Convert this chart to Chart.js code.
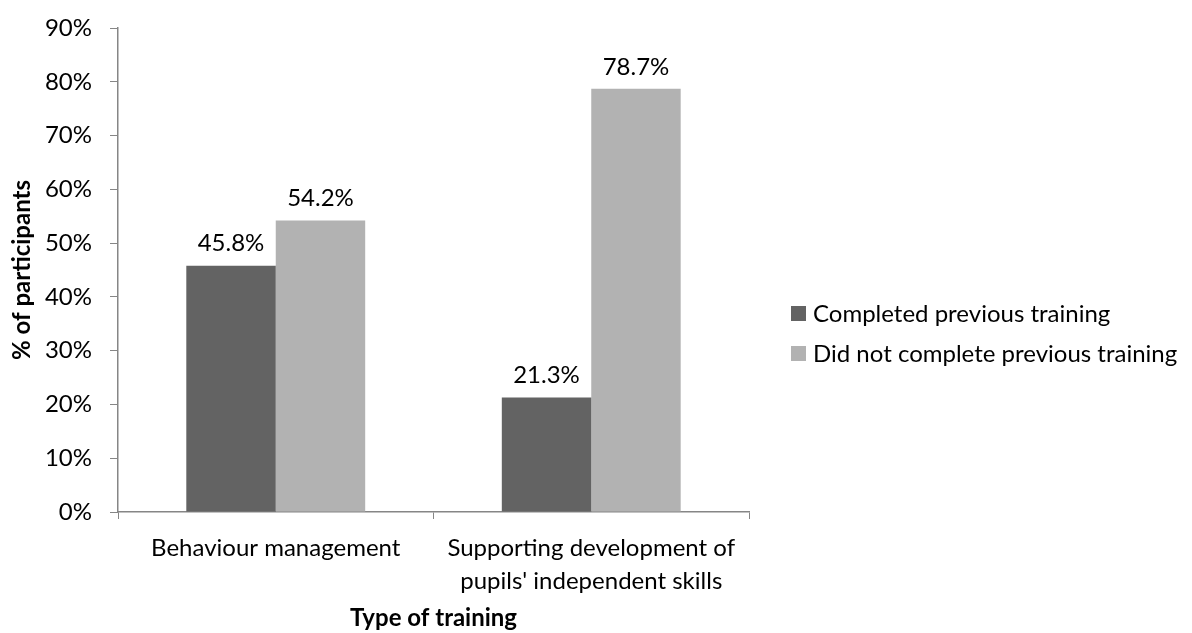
<!DOCTYPE html>
<html>
<head>
<meta charset="utf-8">
<script src="https://cdn.jsdelivr.net/npm/chart.js@4.4.0/dist/chart.umd.min.js"></script>
<style>
  html, body { margin: 0; padding: 0; background: #fff; }
  #wrap { width: 1192px; height: 633px; }
</style>
</head>
<body>
<div id="wrap"><canvas id="trainingChart" width="1192" height="633"></canvas></div>
<script>
// values
var categories = ['Behaviour management', ["Supporting development of", "pupils' independent skills"]];
var seriesNames = ['Completed previous training', 'Did not complete previous training'];
var completed = [45.8, 21.3];
var notCompleted = [54.2, 78.7];
var yTicks = [0, 10, 20, 30, 40, 50, 60, 70, 80, 90];
var colours = ['#636363', '#b2b2b2'];

var fontName = 'Lato, "Open Sans", sans-serif';
var axisGrey = '#868686';

// percentage labels over each bar
var valueLabels = {
    id: 'valueLabels',
    afterDatasetsDraw: function (chart) {
        var ctx = chart.ctx;
        ctx.save();
        ctx.font = '24px ' + fontName;
        ctx.fillStyle = '#000';
        ctx.textAlign = 'center';
        ctx.textBaseline = 'bottom';
        chart.data.datasets.forEach(function (ds, i) {
            chart.getDatasetMeta(i).data.forEach(function (bar, j) {
                ctx.fillText(ds.data[j].toFixed(1) + '%', bar.x, bar.y - 10);
            });
        });
        ctx.restore();
    }
};

// legend on the right, drawn by hand so it sits where the original has it
var sideLegend = {
    id: 'sideLegend',
    afterDraw: function (chart) {
        var ctx = chart.ctx;
        var x = chart.chartArea.right + 42;
        var rows = [313, 353];
        ctx.save();
        ctx.font = '24px ' + fontName;
        ctx.textBaseline = 'middle';
        chart.data.datasets.forEach(function (ds, i) {
            ctx.fillStyle = ds.backgroundColor;
            ctx.fillRect(x, rows[i] - 7, 15, 15);
            ctx.fillStyle = '#000';
            ctx.fillText(ds.label, x + 22, rows[i] + 1);
        });
        ctx.restore();
    }
};

var ctx = document.getElementById('trainingChart');
var myBarChart = new Chart(ctx, {
    type: 'bar',
    data: {
        labels: categories,
        datasets: [{
            label: seriesNames[0],
            data: completed,
            backgroundColor: colours[0],
            categoryPercentage: 0.567,
            barPercentage: 1.0
        }, {
            label: seriesNames[1],
            data: notCompleted,
            backgroundColor: colours[1],
            categoryPercentage: 0.567,
            barPercentage: 1.0
        }]
    },
    options: {
        responsive: false,
        animation: false,
        layout: {
            padding: { top: 28, right: 443, bottom: 0, left: 0 }
        },
        plugins: {
            legend: { display: false },
            tooltip: { enabled: false }
        },
        scales: {
            x: {
                grid: {
                    offset: true,
                    drawOnChartArea: false,
                    color: axisGrey,
                    tickLength: 7
                },
                border: { color: axisGrey, width: 1.5 },
                ticks: {
                    color: '#000',
                    font: { family: fontName, size: 24, lineHeight: 1.4 },
                    padding: 12,
                    maxRotation: 0
                },
                title: {
                    display: true,
                    text: 'Type of training',
                    color: '#000',
                    font: { family: fontName, size: 24, weight: 'bold' },
                    padding: { top: 4, bottom: 0 }
                },
                afterFit: function (scale) { scale.height = 121; }
            },
            y: {
                min: 0,
                max: 90,
                afterBuildTicks: function (scale) {
                    scale.ticks = yTicks.map(function (v) { return { value: v }; });
                },
                grid: {
                    drawOnChartArea: false,
                    color: axisGrey,
                    tickLength: 8
                },
                border: { color: axisGrey, width: 1.5 },
                ticks: {
                    color: '#000',
                    font: { family: fontName, size: 24 },
                    padding: 18,
                    callback: function (v) { return v + '%'; }
                },
                title: {
                    display: true,
                    text: '% of participants',
                    color: '#000',
                    font: { family: fontName, size: 24, weight: 'bold' },
                    padding: { top: 8, bottom: 4 }
                },
                afterFit: function (scale) {
                    scale.width = 118;
                    // tick padding would otherwise push the top of the axis down
                    scale.paddingTop = 0;
                    scale.paddingBottom = 0;
                }
            }
        }
    },
    plugins: [valueLabels, sideLegend]
});
</script>
</body>
</html>
